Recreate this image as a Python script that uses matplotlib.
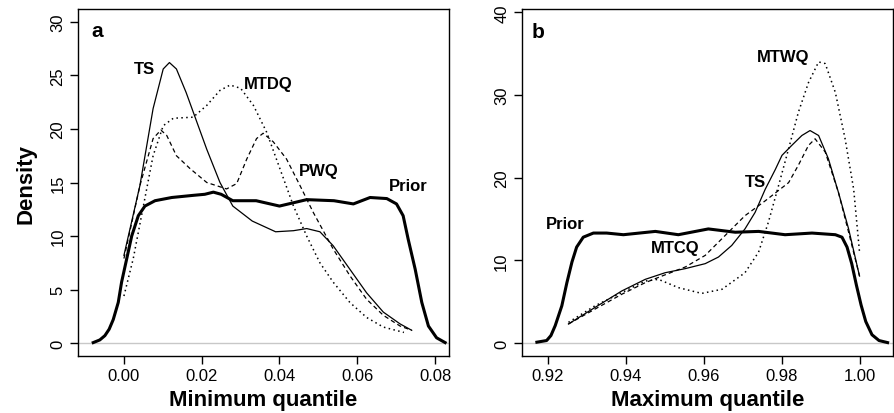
import matplotlib
matplotlib.use("Agg")
import matplotlib.pyplot as plt

plt.rcParams["font.family"] = ["Liberation Sans", "DejaVu Sans"]

# Panel a: minimum quantile densities
a_prior_x = [-0.0079, -0.0062, -0.0049, -0.0038, -0.00275, -0.00146, -0.0006, 0.0007, 0.002, 0.0037,
             0.0054, 0.008, 0.0123, 0.0178, 0.0208, 0.023, 0.025, 0.028, 0.034, 0.040,
             0.047, 0.054, 0.059, 0.0633, 0.0676, 0.0701, 0.0718, 0.0731, 0.0749, 0.0766,
             0.0783, 0.0804, 0.0826]
a_prior_y = [0.05, 0.3, 0.7, 1.3, 2.2, 3.8, 5.7, 7.85, 10.0, 11.9,
             12.8, 13.3, 13.6, 13.8, 13.9, 14.1, 13.9, 13.3, 13.3, 12.8,
             13.4, 13.3, 13.0, 13.6, 13.5, 13.0, 11.9, 9.7, 6.9, 3.8,
             1.6, 0.5, 0.05]

a_ts_x = [0.000, 0.0041, 0.0075, 0.0101, 0.0117, 0.0135, 0.016, 0.0178, 0.0213, 0.0247,
          0.028, 0.033, 0.039, 0.0436, 0.047, 0.0504, 0.0538, 0.0581, 0.0624, 0.0667,
          0.071, 0.074]
a_ts_y = [8.2, 14.7, 21.9, 25.6, 26.2, 25.6, 23.4, 21.6, 18.1, 15.0,
          12.8, 11.4, 10.4, 10.5, 10.7, 10.4, 9.1, 6.9, 4.7, 2.9,
          1.8, 1.2]

a_pwq_x = [0.000, 0.0041, 0.0075, 0.0095, 0.011, 0.0135, 0.017, 0.0213, 0.0264, 0.029,
           0.0316, 0.0341, 0.0358, 0.0384, 0.0418, 0.0453, 0.0487, 0.0538, 0.0581, 0.0624,
           0.0667, 0.071, 0.074]
a_pwq_y = [7.9, 14.7, 19.1, 19.9, 19.4, 17.5, 16.3, 15.0, 14.4, 14.9,
           17.2, 19.1, 19.6, 18.8, 17.2, 14.7, 12.2, 8.8, 6.3, 4.1,
           2.6, 1.6, 1.2]

a_mtdq_x = [0.000, 0.0024, 0.005, 0.0075, 0.0101, 0.0127, 0.0178, 0.0213, 0.0247, 0.0273,
            0.030, 0.0333, 0.0367, 0.0401, 0.0436, 0.047, 0.0504, 0.0538, 0.0581, 0.0624,
            0.0667, 0.072]
a_mtdq_y = [4.4, 7.9, 12.8, 17.5, 20.3, 21.0, 21.1, 22.2, 23.6, 24.1,
            23.8, 22.2, 19.7, 16.3, 12.8, 10.0, 7.5, 5.7, 3.8, 2.4,
            1.5, 1.0]

# Panel b: maximum quantile densities
b_prior_x = [0.9172, 0.9197, 0.9208, 0.9219, 0.9236, 0.9249, 0.9262, 0.9274, 0.9291, 0.9317,
             0.9351, 0.9394, 0.9476, 0.9535, 0.9612, 0.9681, 0.9741, 0.9809, 0.9878, 0.9938,
             0.9955, 0.9968, 0.9980, 0.9992, 1.0004, 1.0016, 1.0032, 1.0050, 1.0072]
b_prior_y = [0.1, 0.3, 0.9, 2.1, 4.5, 7.3, 9.8, 11.6, 12.8, 13.3,
             13.3, 13.1, 13.5, 13.1, 13.8, 13.4, 13.5, 13.1, 13.3, 13.1,
             12.8, 11.6, 9.6, 7.0, 4.6, 2.6, 1.0, 0.3, 0.05]

b_ts_x = [0.9253, 0.9321, 0.939, 0.945, 0.9501, 0.9553, 0.9604, 0.9638, 0.9672, 0.9706,
          0.9732, 0.9758, 0.9784, 0.9801, 0.9826, 0.9852, 0.9873, 0.9895, 0.992, 0.9946,
          0.9972, 1.000]
b_ts_y = [2.3, 4.3, 6.3, 7.7, 8.5, 9.0, 9.6, 10.4, 11.8, 13.8,
          15.8, 18.6, 21.0, 22.7, 23.9, 25.1, 25.7, 25.1, 22.3, 18.2,
          13.8, 8.1]

b_mtcq_x = [0.9253, 0.9321, 0.939, 0.945, 0.9493, 0.9553, 0.9604, 0.9655, 0.9706, 0.9758,
            0.9818, 0.9843, 0.9869, 0.9886, 0.9912, 0.9946, 0.9972, 1.000]
b_mtcq_y = [2.3, 4.1, 5.9, 7.3, 8.1, 9.2, 10.6, 13.0, 15.4, 17.2,
            19.4, 21.5, 23.9, 24.7, 23.1, 18.2, 13.4, 8.1]

b_mtwq_x = [0.9253, 0.9321, 0.939, 0.945, 0.9484, 0.9535, 0.9595, 0.9647, 0.9706, 0.9741,
            0.9766, 0.9792, 0.9818, 0.9843, 0.9869, 0.9895, 0.9912, 0.9938, 0.9963, 0.9985,
            1.000]
b_mtwq_y = [2.5, 4.5, 6.1, 7.5, 7.7, 6.7, 6.0, 6.5, 8.5, 11.0,
            14.6, 19.0, 23.5, 27.9, 31.5, 34.0, 33.8, 30.3, 24.7, 18.6,
            11.0]

dotted = (0, (1, 2.2))
dashed = (0, (3.5, 2.5))

fig = plt.figure(figsize=(8.95, 4.14), dpi=100)
ax1 = fig.add_axes([0.0872, 0.1377, 0.4145, 0.8381])
ax2 = fig.add_axes([0.5829, 0.1377, 0.4149, 0.8381])

for ax in (ax1, ax2):
    ax.axhline(0, color="#c8c8c8", lw=1.0, zorder=0)
    for s in ax.spines.values():
        s.set_linewidth(1.0)
    ax.tick_params(direction="out", length=6, width=1.0, labelsize=12, pad=3)
    ax.tick_params(axis="y", labelrotation=90)
    for lab in ax.get_yticklabels():
        lab.set_va("center")

# Panel a
ax1.plot(a_prior_x, a_prior_y, color="black", lw=2.2, solid_joinstyle="round")
ax1.plot(a_ts_x, a_ts_y, color="black", lw=0.9)
ax1.plot(a_pwq_x, a_pwq_y, color="black", lw=0.9, ls=dashed)
ax1.plot(a_mtdq_x, a_mtdq_y, color="black", lw=1.1, ls=dotted)
ax1.set_xlim(-0.0118, 0.0836)
ax1.set_ylim(-1.2, 31.2)
ax1.set_xticks([0.00, 0.02, 0.04, 0.06, 0.08])
ax1.set_xticklabels(["0.00", "0.02", "0.04", "0.06", "0.08"])
ax1.set_yticks([0, 5, 10, 15, 20, 25, 30])
ax1.set_xlabel("Minimum quantile", fontsize=16, fontweight="bold", labelpad=4)
ax1.set_ylabel("Density", fontsize=16, fontweight="bold", labelpad=10)
bold = dict(fontweight="bold", fontsize=12, ha="center", va="center")
ax1.text(-0.0070, 29.2, "a", fontweight="bold", fontsize=15, ha="center", va="center")
ax1.text(0.0054, 25.6, "TS", **bold)
ax1.text(0.0370, 24.2, "MTDQ", **bold)
ax1.text(0.0502, 16.1, "PWQ", **bold)
ax1.text(0.0731, 14.7, "Prior", **bold)

# Panel b
ax2.plot(b_prior_x, b_prior_y, color="black", lw=2.2, solid_joinstyle="round")
ax2.plot(b_ts_x, b_ts_y, color="black", lw=0.9)
ax2.plot(b_mtcq_x, b_mtcq_y, color="black", lw=0.9, ls=dashed)
ax2.plot(b_mtwq_x, b_mtwq_y, color="black", lw=1.1, ls=dotted)
ax2.set_xlim(0.9133, 1.0086)
ax2.set_ylim(-1.57, 40.4)
ax2.set_xticks([0.92, 0.94, 0.96, 0.98, 1.00])
ax2.set_xticklabels(["0.92", "0.94", "0.96", "0.98", "1.00"])
ax2.set_yticks([0, 10, 20, 30, 40])
ax2.set_xlabel("Maximum quantile", fontsize=16, fontweight="bold", labelpad=4)
ax2.text(0.9175, 37.7, "b", fontweight="bold", fontsize=15, ha="center", va="center")
ax2.text(0.9804, 34.7, "MTWQ", **bold)
ax2.text(0.9732, 19.5, "TS", **bold)
ax2.text(0.9244, 14.4, "Prior", **bold)
ax2.text(0.9527, 11.5, "MTCQ", **bold)

fig.savefig("out.png", dpi=100)
